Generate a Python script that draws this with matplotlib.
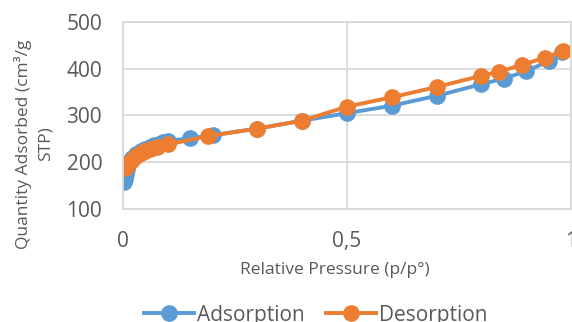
import matplotlib.pyplot as plt

plt.rcParams['font.family'] = ['Open Sans', 'DejaVu Sans']

# adsorption branch
ads_p = [0.002, 0.004, 0.006, 0.008, 0.01, 0.015, 0.02, 0.03, 0.04, 0.05, 0.06,
         0.07, 0.08, 0.09, 0.10, 0.15, 0.20, 0.30, 0.40, 0.50, 0.60, 0.70, 0.80,
         0.85, 0.90, 0.95, 0.98]
ads_q = [158, 165, 175, 185, 192, 202, 210, 218, 224, 229, 233,
         237, 240, 243, 246, 251, 258, 272, 289, 305, 321, 342, 367,
         379, 395, 416, 436]

# desorption branch
des_p = [0.983, 0.942, 0.89, 0.84, 0.80, 0.70, 0.60, 0.50, 0.40, 0.30, 0.19,
         0.10, 0.075, 0.06, 0.05, 0.04, 0.03, 0.02, 0.015, 0.01, 0.005]
des_q = [438, 424, 408, 394, 385, 361, 339, 319, 289, 272, 256,
         238, 233, 228, 224, 219, 213, 205, 200, 193, 187]

x_ticks = [0, 0.5, 1]
x_tick_labels = ['0', '0,5', '1']
y_ticks = [100, 200, 300, 400, 500]

blue = '#5B9BD5'
orange = '#ED7D31'
grey = '#D9D9D9'
txt = '#595959'

fig = plt.figure(figsize=(5.72, 3.22), dpi=100)
ax = fig.add_axes([123 / 572, 1 - 209 / 322, 448 / 572, 187 / 322])

ax.plot(ads_p, ads_q, color=blue, lw=2.8, marker='o', ms=11, label='Adsorption')
ax.plot(des_p, des_q, color=orange, lw=2.8, marker='o', ms=11, label='Desorption')

ax.set_xlim(0, 1)
ax.set_ylim(100, 500)
ax.set_xticks(x_ticks)
ax.set_xticklabels(x_tick_labels)
ax.set_yticks(y_ticks)
ax.grid(True, color=grey, lw=1.3)
ax.set_axisbelow(True)
for s in ax.spines.values():
    s.set_color(grey)
    s.set_linewidth(1.3)
ax.tick_params(length=0, colors=txt, labelsize=15)
ax.tick_params(axis='x', pad=16)
ax.tick_params(axis='y', pad=15)

fig.text(23 / 572, 1 - 144 / 322, 'Quantity Adsorbed (cm³/g', rotation=90,
         ha='center', va='center', color=txt, fontsize=12.5)
fig.text(46 / 572, 1 - 144 / 322, 'STP)', rotation=90,
         ha='center', va='center', color=txt, fontsize=12.5)
fig.text(335 / 572, 1 - 270 / 322, 'Relative Pressure (p/p°)',
         ha='center', va='center', color=txt, fontsize=12.5)

fig.legend(loc='center', bbox_to_anchor=(316 / 572, 1 - 315 / 322), ncol=2,
           frameon=False, fontsize=15, labelcolor=txt, handlelength=2.4,
           handletextpad=0.15, columnspacing=1.0, borderaxespad=0)

fig.savefig('out.png', dpi=100)
